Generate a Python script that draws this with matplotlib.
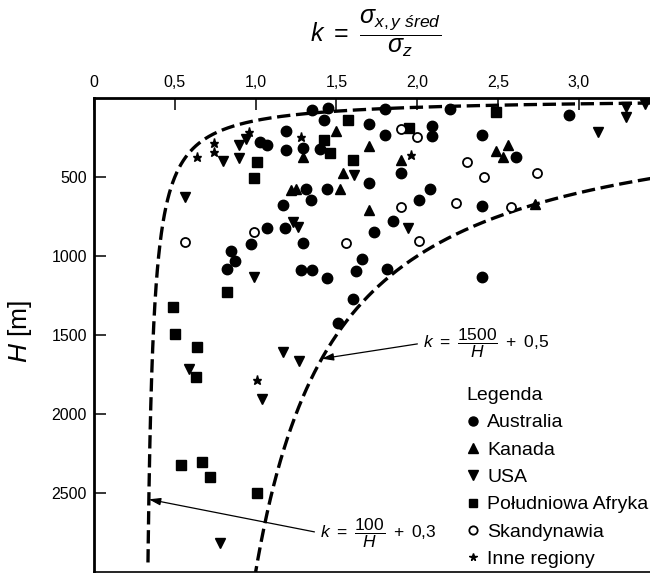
import numpy as np
import matplotlib.pyplot as plt
from matplotlib.lines import Line2D

plt.rcParams['font.family'] = ['Liberation Sans', 'DejaVu Sans']
plt.rcParams['mathtext.fontset'] = 'custom'
plt.rcParams['mathtext.rm'] = 'Liberation Sans'
plt.rcParams['mathtext.it'] = 'Liberation Sans:italic'
plt.rcParams['mathtext.bf'] = 'Liberation Sans:bold'

# ── Data: k = sigma_xy / sigma_z vs depth H [m] ──
australia_k = [1.35, 1.45, 1.42, 1.80, 2.20, 2.94, 1.19, 1.19, 1.29, 1.40,
               1.70, 1.80, 1.03, 1.07, 2.09, 2.09, 2.40, 2.61, 1.90, 1.70,
               1.31, 1.44, 1.34, 1.17, 2.08, 2.01, 2.40, 1.85, 1.73, 1.07,
               1.18, 0.97, 0.85, 0.87, 0.82, 1.29, 1.28, 1.35, 1.44, 1.66,
               1.62, 1.81, 1.60, 1.51, 2.40]
australia_H = [76, 66, 139, 70, 70, 108, 212, 326, 318, 325,
               163, 237, 278, 297, 177, 240, 234, 372, 472, 540,
               573, 576, 646, 677, 578, 646, 682, 777, 846, 825,
               825, 924, 966, 1030, 1084, 920, 1089, 1089, 1141, 1021,
               1095, 1085, 1275, 1424, 1135]

kanada_k = [1.50, 1.70, 1.29, 1.54, 1.52, 1.22, 1.25, 1.70, 1.90, 2.49,
            2.56, 2.53, 2.73]
kanada_H = [212, 301, 372, 477, 576, 582, 579, 712, 392, 334,
            297, 372, 674]

usa_k = [3.41, 3.29, 3.29, 3.12, 0.90, 0.94, 0.80, 0.90, 0.56, 1.61,
         1.23, 1.26, 0.99, 1.94, 0.59, 1.17, 1.27, 1.04, 0.78]
usa_H = [40, 55, 122, 213, 297, 261, 396, 382, 625, 490,
         783, 814, 1131, 825, 1717, 1606, 1663, 1907, 2815]

afryka_k = [1.57, 2.49, 1.42, 1.46, 1.95, 1.01, 0.99, 1.60, 0.82, 0.49,
            0.50, 0.64, 0.63, 0.54, 0.67, 0.72, 1.01]
afryka_H = [139, 87, 266, 345, 192, 408, 508, 392, 1226, 1320,
            1496, 1574, 1768, 2323, 2302, 2401, 2502]

skand_k = [1.90, 2.00, 2.31, 2.41, 2.74, 1.90, 2.24, 2.58, 2.01, 1.56,
           0.99, 0.56]
skand_H = [198, 245, 403, 502, 477, 688, 663, 693, 902, 916,
           850, 909]

inne_k = [0.96, 0.74, 0.74, 0.64, 1.28, 1.96, 1.01]
inne_H = [213, 283, 342, 372, 245, 361, 1785]

# envelope curves k = A/H + B (coefficients printed on the chart)
upper_A, upper_B = 1500, 0.5
lower_A, lower_B = 100, 0.3

xticks = [0, 0.5, 1.0, 1.5, 2.0, 2.5, 3.0]
xtick_labels = ['0', '0,5', '1,0', '1,5', '2,0', '2,5', '3,0']
yticks = [500, 1000, 1500, 2000, 2500]

# ── Canvas ──
fig = plt.figure(figsize=(6.5, 5.73), dpi=100)
fig.patch.set_facecolor('white')
ax = fig.add_axes([94/650, 1/573, 556/650, 474/573])

H_up = np.linspace(400, 3000, 400)
H_lo = np.geomspace(28, 2950, 600)
dash = dict(color='black', lw=2.4, ls=(0, (4, 1.7)), dash_capstyle='butt')
ax.plot(upper_A / H_up + upper_B, H_up, **dash)
ax.plot(lower_A / H_lo + lower_B, H_lo, **dash)

ax.plot(australia_k, australia_H, ls='none', marker='o', ms=7.5, color='black')
ax.plot(kanada_k, kanada_H, ls='none', marker='^', ms=7.5, color='black')
ax.plot(usa_k, usa_H, ls='none', marker='v', ms=7.5, color='black')
ax.plot(afryka_k, afryka_H, ls='none', marker='s', ms=6.5, color='black')
ax.plot(skand_k, skand_H, ls='none', marker='o', ms=6.5, mfc='white',
        mec='black', mew=1.3)
ax.plot(inne_k, inne_H, ls='none', marker='*', ms=6.5, color='black')

ax.set_xlim(0, 3.44)
ax.set_ylim(3000, 0)
ax.xaxis.tick_top()
ax.set_xticks(xticks)
ax.set_xticklabels(xtick_labels)
ax.set_yticks(yticks)
ax.tick_params(direction='in', length=8.5, width=1.1, labelsize=11.5)
ax.tick_params(axis='x', pad=6)
ax.tick_params(axis='y', pad=5)
ax.spines['right'].set_visible(False)
ax.spines['top'].set_linewidth(2)
ax.spines['left'].set_linewidth(2)
ax.spines['bottom'].set_linewidth(1.2)

ax.set_ylabel(r'$H$ [m]', fontsize=19)
ax.yaxis.set_label_coords(-0.108, 0.508)

fig.text(376/650, 1 - 33/573,
         r'$k\ =\ \dfrac{\sigma_{x,y\ śred}}{\sigma_z}$',
         ha='center', va='center', fontsize=18)

# ── Curve labels ──
arrow = dict(arrowstyle='-|>,head_length=0.7,head_width=0.22',
             color='black', lw=0.9, mutation_scale=10,
             shrinkA=2, shrinkB=0, relpos=(0, 0.5))
H_a = 1650
ax.annotate(r'$k\ =\ \dfrac{1500}{H}\ +\ 0{,}5$',
            xy=(upper_A / H_a + upper_B, H_a), xytext=(2.035, 1551),
            ha='left', va='center', fontsize=12.5, arrowprops=arrow)
H_b = 2540
ax.annotate(r'$k\ =\ \dfrac{100}{H}\ +\ 0{,}3$',
            xy=(lower_A / H_b + lower_B, H_b), xytext=(1.398, 2753),
            ha='left', va='center', fontsize=12.5, arrowprops=arrow)

# ── Legend ──
handles = [
    Line2D([], [], ls='none', marker='o', ms=6.5, color='black', label='Australia'),
    Line2D([], [], ls='none', marker='^', ms=6.5, color='black', label='Kanada'),
    Line2D([], [], ls='none', marker='v', ms=6.5, color='black', label='USA'),
    Line2D([], [], ls='none', marker='s', ms=6, color='black', label='Południowa Afryka'),
    Line2D([], [], ls='none', marker='o', ms=6, mfc='white', mec='black',
           mew=1.3, label='Skandynawia'),
    Line2D([], [], ls='none', marker='*', ms=5.5, color='black', label='Inne regiony'),
]
ax.legend(handles=handles, title='Legenda', loc='upper left',
          bbox_to_anchor=(466/650, 1 - 387/573), bbox_transform=fig.transFigure,
          frameon=False, fontsize=14, title_fontsize=14, alignment='left',
          handlelength=0.75, handletextpad=0.35, labelspacing=0.5,
          borderpad=0, borderaxespad=0)

plt.savefig('out.png', dpi=100, facecolor='white')
